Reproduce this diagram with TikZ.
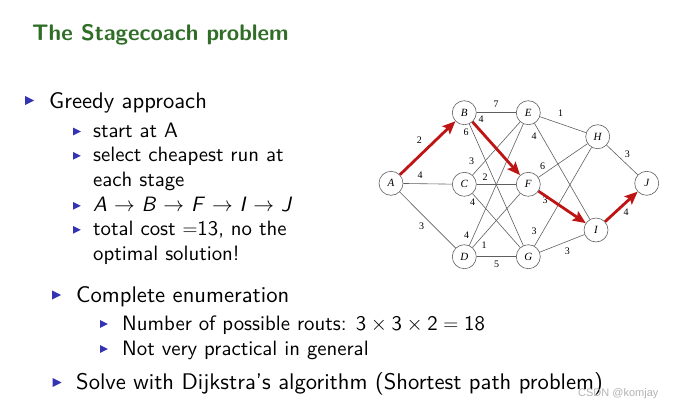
\documentclass[tikz,border=0pt]{standalone}
\usepackage{fontspec}
\setsansfont{lmsans10-regular.otf}[BoldFont=lmsans10-bold.otf, ItalicFont=lmsans10-oblique.otf]
\usetikzlibrary{arrows.meta}
\newfontfamily\graphfont{Liberation Serif}
\newfontfamily\markfont{Liberation Sans}
\definecolor{titlegreen}{RGB}{48,110,40}
\definecolor{bulblue}{RGB}{51,51,179}
\definecolor{pathred}{RGB}{190,20,20}
\definecolor{roadgray}{RGB}{95,95,95}

% beamer-like triangle bullets
\newcommand{\bulA}[1]{\fill[bulblue] (#1) ++(-4.5,-4.6) -- ++(9,4.6) -- ++(-9,4.6) -- cycle;}
\newcommand{\bulB}[1]{\fill[bulblue] (#1) ++(-3.8,-3.8) -- ++(7.6,3.8) -- ++(-7.6,3.8) -- cycle;}

\tikzset{
  itemA/.style={anchor=base west, inner sep=0pt, font=\sffamily\fontsize{22.6}{26}\selectfont},
  itemB/.style={anchor=base west, inner sep=0pt, font=\sffamily\fontsize{20.8}{24}\selectfont},
  stn/.style={circle, draw=roadgray, line width=0.6pt, minimum size=24pt, inner sep=0pt,
    font=\graphfont\itshape\fontsize{11}{13}\selectfont},
  road/.style={draw=roadgray, line width=0.6pt},
  wt/.style={inner sep=0pt, font=\graphfont\fontsize{10}{12}\selectfont},
  pick/.style={-{Stealth[length=13pt,width=11pt,inset=2.5pt]}, line width=2.8pt, draw=pathred}
}

\begin{document}
\begin{tikzpicture}[x=1pt,y=-1pt]
  \useasboundingbox (0,0) rectangle (674,410);

  % title
  \node[anchor=base west, inner sep=0pt, text=titlegreen,
    font=\sffamily\bfseries\fontsize{22.5}{26}\selectfont] (title) at (32,40.5) {The Stagecoach problem};

  % greedy part
  \bulA{29.5,100.5}
  \node[itemA] (greedy) at (49,108) {Greedy approach};
  \bulB{77,131.5}
  \node[itemB] (start) at (93,137.3) {start at A};
  \bulB{77,155.8}
  \node[itemB] (sel) at (93,161.7) {select cheapest run at};
  \node[itemB] (sel2) at (93,186) {each stage};
  \bulB{77,205.8}
  \node[itemB] (route) at (93,211.7) {\textit{A} $\rightarrow$ \textit{B} $\rightarrow$ \textit{F} $\rightarrow$ \textit{I} $\rightarrow$ \textit{J}};
  \bulB{77,229.8}
  \node[itemB] (cost) at (93,235.7) {total cost $=$13, no the};
  \node[itemB] (cost2) at (93,260) {optimal solution!};

  % enumeration part
  \bulA{56.5,295}
  \node[itemA] (enum) at (76,302) {Complete enumeration};
  \bulB{104,324}
  \node[itemB] (num) at (122,330) {Number of possible routs: $\mathsf{3}\times\mathsf{3}\times\mathsf{2}=\mathsf{18}$};
  \bulB{104,349}
  \node[itemB] (prac) at (122,355) {Not very practical in general};
  \bulA{57,382.5}
  \node[itemA] (dijk) at (76,389) {Solve with Dijkstra's algorithm (Shortest path problem)};

  % stages
  \node[stn] (A) at (391,183.3) {A};
  \node[stn] (B) at (464.3,112.7) {B};
  \node[stn] (C) at (464.3,184.3) {C};
  \node[stn] (D) at (464.3,256.7) {D};
  \node[stn] (E) at (528.3,112.7) {E};
  \node[stn] (F) at (528.3,184.3) {F};
  \node[stn] (G) at (528.3,256.7) {G};
  \node[stn] (H) at (597.7,136.7) {H};
  \node[stn] (I) at (596,230) {I};
  \node[stn] (J) at (646.7,183.3) {J};

  % roads
  \foreach \a/\b in {A/C,A/D,B/E,B/G,C/E,C/F,C/G,D/E,D/F,D/G,E/H,E/I,F/H,G/H,G/I,H/J}
    \draw[road] (\a) -- (\b);

  % costs
  \foreach \x/\y/\c [count=\k] in {419.3/140/2,420/175/4,421.7/226.7/3,496/104/7,481/119.3/4,
      466/132.7/6,471.7/161.7/3,485/177.3/2,472.7/202.7/4,466.7/235/4,484/245/1,496.7/264/5,
      560.7/113.3/1,534/136.7/4,542.7/166/6,545/200/3,534/231.7/3,567.3/251.7/3,627.3/154/3,626/212.7/4}
    \node[wt] (w\k) at (\x,\y) {\c};

  % greedy route
  \foreach \a/\b in {A/B,B/F,F/I,I/J}
    \draw[pick] (\a) -- (\b);

  \node[anchor=base west, inner sep=0pt, text=gray!60, font=\markfont\fontsize{11}{13}\selectfont] (mark) at (578,396) {CSDN @komjay};
\end{tikzpicture}
\end{document}
